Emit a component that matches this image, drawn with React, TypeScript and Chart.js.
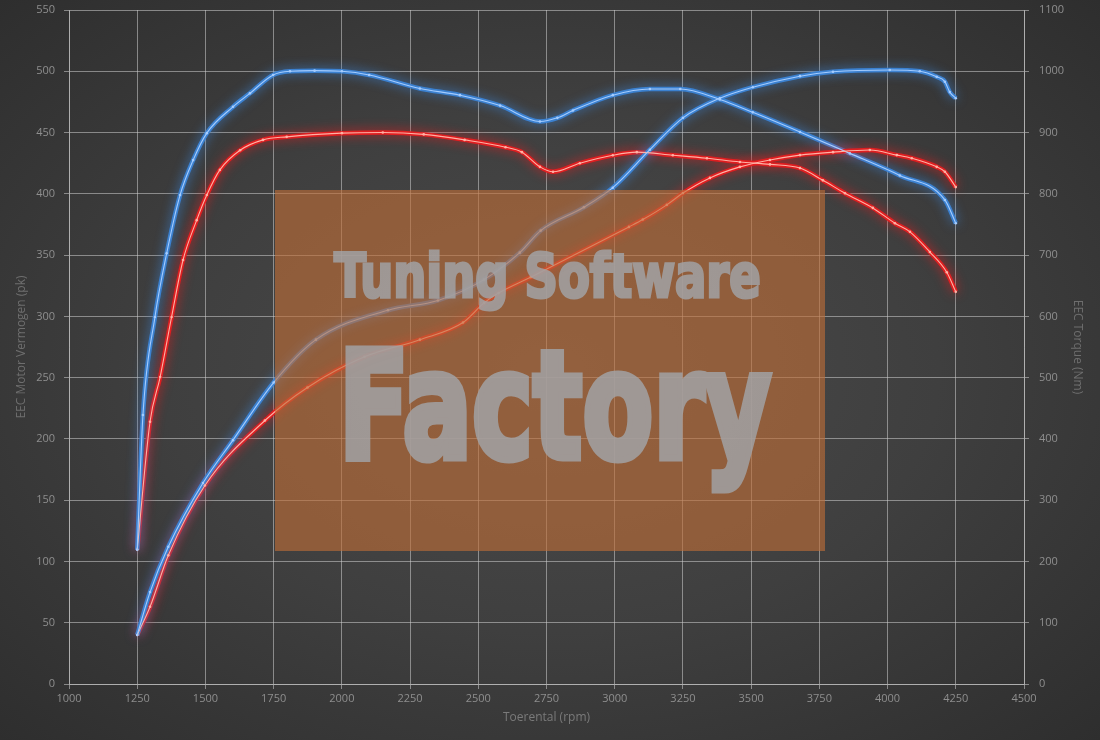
import React, { useEffect, useRef } from 'react';
import { Chart, registerables } from 'chart.js';

Chart.register(...registerables);

// X axis (rpm) range and ticks
const rpmMin = 1000;
const rpmMax = 4500;
const rpmStep = 250;
// Left axis (pk) and right axis (Nm)
const pkMax = 550;
const pkStep = 50;
const nmMax = 1100;
const nmStep = 100;

// Blue power (pk)
const bluePowerRpm = [1250, 1297, 1364, 1491, 1601, 1750, 1905, 2169, 2352, 2521, 2652, 2729, 2887, 2993, 3129, 3250, 3385, 3506, 3679, 3800, 4008, 4118, 4180, 4210, 4228, 4250];
const bluePowerPk = [40, 75, 112, 164, 199, 246, 281, 305, 313, 330, 352, 370, 389, 405, 436, 462, 478, 487, 496, 499.6, 501, 500, 495.5, 491.5, 483, 478];

// Red power (pk)
const redPowerRpm = [1250, 1297, 1364, 1498, 1718, 1874, 2083, 2286, 2444, 2521, 2574, 2692, 3052, 3103, 3191, 3250, 3349, 3459, 3569, 3679, 3800, 3935, 4034, 4089, 4180, 4210, 4250];
const redPowerPk = [40, 63, 105, 162, 215, 242, 267, 281, 295, 311, 319, 332, 373, 379, 391, 400.6, 413, 422, 427.6, 431.6, 434, 435.7, 431.6, 429, 422, 418, 405.5];

// Blue torque (Nm)
const blueTorqueRpm = [1250, 1271, 1315, 1358, 1407, 1455, 1505, 1601, 1663, 1748, 1810, 1900, 2000, 2100, 2286, 2433, 2580, 2726, 2790, 2847, 2993, 3129, 3240, 3385, 3506, 3679, 3862, 4045, 4210, 4250];
const blueTorqueNm = [219, 439, 599, 703, 798, 855, 899, 942, 964, 994, 1000, 1001, 1000, 994, 972, 961, 944, 918, 924, 936, 961, 971, 971, 954, 933, 901, 866, 830, 790, 752];

// Red torque (Nm)
const redTorqueRpm = [1250, 1297, 1334, 1376, 1418, 1468, 1505, 1553, 1627, 1711, 1798, 2000, 2150, 2300, 2450, 2600, 2660, 2726, 2774, 2872, 2993, 3081, 3213, 3338, 3459, 3569, 3679, 3763, 3844, 3946, 4027, 4082, 4155, 4217, 4250];
const redTorqueNm = [219, 428, 501, 599, 692, 757, 798, 839, 871, 888, 893, 899, 900, 897, 888, 876, 868, 844, 836, 850, 863, 868, 863, 858, 852, 848, 842, 822, 801, 777, 752, 738, 705, 672, 640];

const leftTitle = 'EEC Motor Vermogen (pk)';
const rightTitle = 'EEC Torque (Nm)';
const xTitle = 'Toerental (rpm)';
const watermarkTop = 'Tuning Software';
const watermarkBottom = 'Factory';

const toPoints = (xs: number[], ys: number[]) => xs.map((x, i) => ({ x, y: ys[i] }));

const RED_CORE = '#ffb0a4';
const RED_GLOW = 'rgba(230,30,32,0.95)';
const BLUE_CORE = '#a4ccff';
const BLUE_GLOW = 'rgba(60,132,214,0.95)';

const glowPlugin = {
  id: 'glow',
  beforeDatasetDraw(chart: any, args: any) {
    const ds = chart.data.datasets[args.index];
    const ctx = chart.ctx;
    ctx.save();
    if (ds.glowColor) {
      ctx.shadowColor = ds.glowColor;
      ctx.shadowBlur = 11;
    }
  },
  afterDatasetDraw(chart: any) {
    chart.ctx.restore();
  },
};

function fitText(ctx: CanvasRenderingContext2D, text: string, left: number, right: number, baseline: number, px: number, stroke: number) {
  ctx.font = `bold ${px}px "DejaVu Sans Condensed", "DejaVu Sans", sans-serif`;
  const w = ctx.measureText(text).width + stroke;
  ctx.save();
  ctx.translate(left, baseline);
  ctx.scale((right - left) / w, 1);
  ctx.textAlign = 'left';
  ctx.textBaseline = 'alphabetic';
  ctx.lineJoin = 'miter';
  ctx.lineWidth = stroke;
  ctx.fillText(text, stroke / 2, 0);
  ctx.strokeText(text, stroke / 2, 0);
  ctx.restore();
}

const watermarkPlugin = {
  id: 'watermark',
  afterDatasetsDraw(chart: any) {
    const ctx = chart.ctx as CanvasRenderingContext2D;
    ctx.save();
    ctx.fillStyle = 'rgba(192,110,55,0.62)';
    ctx.fillRect(275, 190, 550, 361);
    const off = document.createElement('canvas');
    off.width = 1100;
    off.height = 740;
    const octx = off.getContext('2d') as CanvasRenderingContext2D;
    octx.fillStyle = '#a2a2a4';
    octx.strokeStyle = '#a2a2a4';
    fitText(octx, watermarkTop, 333, 762, 297, 60, 3);
    fitText(octx, watermarkBottom, 336, 774, 458, 150, 7);
    ctx.globalAlpha = 0.86;
    ctx.drawImage(off, 0, 0);
    ctx.restore();
  },
};

export default function App() {
  const ref = useRef<HTMLCanvasElement | null>(null);

  useEffect(() => {
    if (!ref.current) return;
    const tickFont = { family: '"Open Sans", "DejaVu Sans", sans-serif', size: 11 };
    const titleFont = { family: '"Open Sans", "DejaVu Sans", sans-serif', size: 12 };
    const gridColor = 'rgba(205,205,205,0.55)';
    const plain = (v: any) => String(v);
    const core = (label: string, pts: any[], color: string, axis: string) => ({
      label,
      data: pts,
      yAxisID: axis,
      borderColor: color,
      borderWidth: 1.1,
      pointRadius: 1.3,
      pointBackgroundColor: color,
      pointBorderWidth: 0,
      cubicInterpolationMode: 'monotone',
      fill: false,
    });
    const glow = (label: string, pts: any[], color: string, axis: string) => ({
      label,
      data: pts,
      yAxisID: axis,
      borderColor: color,
      borderWidth: 4.5,
      pointRadius: 0,
      cubicInterpolationMode: 'monotone',
      fill: false,
      glowColor: color,
    });
    const bp = toPoints(bluePowerRpm, bluePowerPk);
    const rp = toPoints(redPowerRpm, redPowerPk);
    const bt = toPoints(blueTorqueRpm, blueTorqueNm);
    const rt = toPoints(redTorqueRpm, redTorqueNm);
    const fixV = (w: number) => (s: any) => { s.width = w; s.paddingTop = 0; s.paddingBottom = 0; };

    const chart = new Chart(ref.current, {
      type: 'line',
      data: {
        datasets: [
          core('Vermogen getuned', bp, BLUE_CORE, 'y'),
          core('Vermogen origineel', rp, RED_CORE, 'y'),
          core('Torque getuned', bt, BLUE_CORE, 'y1'),
          core('Torque origineel', rt, RED_CORE, 'y1'),
          glow('g1', bp, BLUE_GLOW, 'y'),
          glow('g2', rp, RED_GLOW, 'y'),
          glow('g3', bt, BLUE_GLOW, 'y1'),
          glow('g4', rt, RED_GLOW, 'y1'),
        ] as any,
      },
      options: {
        responsive: false,
        animation: false,
        layout: { padding: { top: 10, left: 0, right: 0, bottom: 0 } },
        plugins: {
          legend: { display: false },
          tooltip: { enabled: false },
        },
        scales: {
          x: {
            type: 'linear',
            min: rpmMin,
            max: rpmMax,
            ticks: { stepSize: rpmStep, color: '#8e8e8e', font: tickFont, padding: 3, callback: plain },
            grid: { color: gridColor, tickLength: 5 },
            border: { color: gridColor },
            title: { display: true, text: xTitle, color: '#7a7a7a', font: titleFont, padding: { top: 0, bottom: 15 } },
            afterFit: (s: any) => { s.height = 56; s.paddingLeft = 0; s.paddingRight = 0; },
          },
          y: {
            type: 'linear',
            position: 'left',
            min: 0,
            max: pkMax,
            ticks: { stepSize: pkStep, color: '#8e8e8e', font: tickFont, padding: 9, callback: plain },
            grid: { color: gridColor, tickLength: 5 },
            border: { color: gridColor },
            title: { display: true, text: leftTitle, color: '#6e6e6e', font: titleFont, padding: { top: 14, bottom: 0 } },
            afterFit: fixV(69),
          },
          y1: {
            type: 'linear',
            position: 'right',
            min: 0,
            max: nmMax,
            ticks: { stepSize: nmStep, color: '#8e8e8e', font: tickFont, padding: 10, callback: plain },
            grid: { drawOnChartArea: false, color: gridColor, tickLength: 5 },
            border: { color: gridColor },
            title: { display: true, text: rightTitle, color: '#6e6e6e', font: titleFont, padding: { top: 15, bottom: 0 } },
            afterFit: fixV(76),
          },
        },
      } as any,
      plugins: [glowPlugin, watermarkPlugin],
    });
    return () => chart.destroy();
  }, []);

  return (
    <div
      style={{
        position: 'absolute',
        left: 0,
        top: 0,
        width: 1100,
        height: 740,
        background: 'radial-gradient(ellipse at 50% 50%, #4b4b4b 0%, #3f3f3f 50%, #2e2e2e 100%)',
      }}
    >
      <canvas ref={ref} width={1100} height={740} style={{ display: 'block' }} />
    </div>
  );
}
